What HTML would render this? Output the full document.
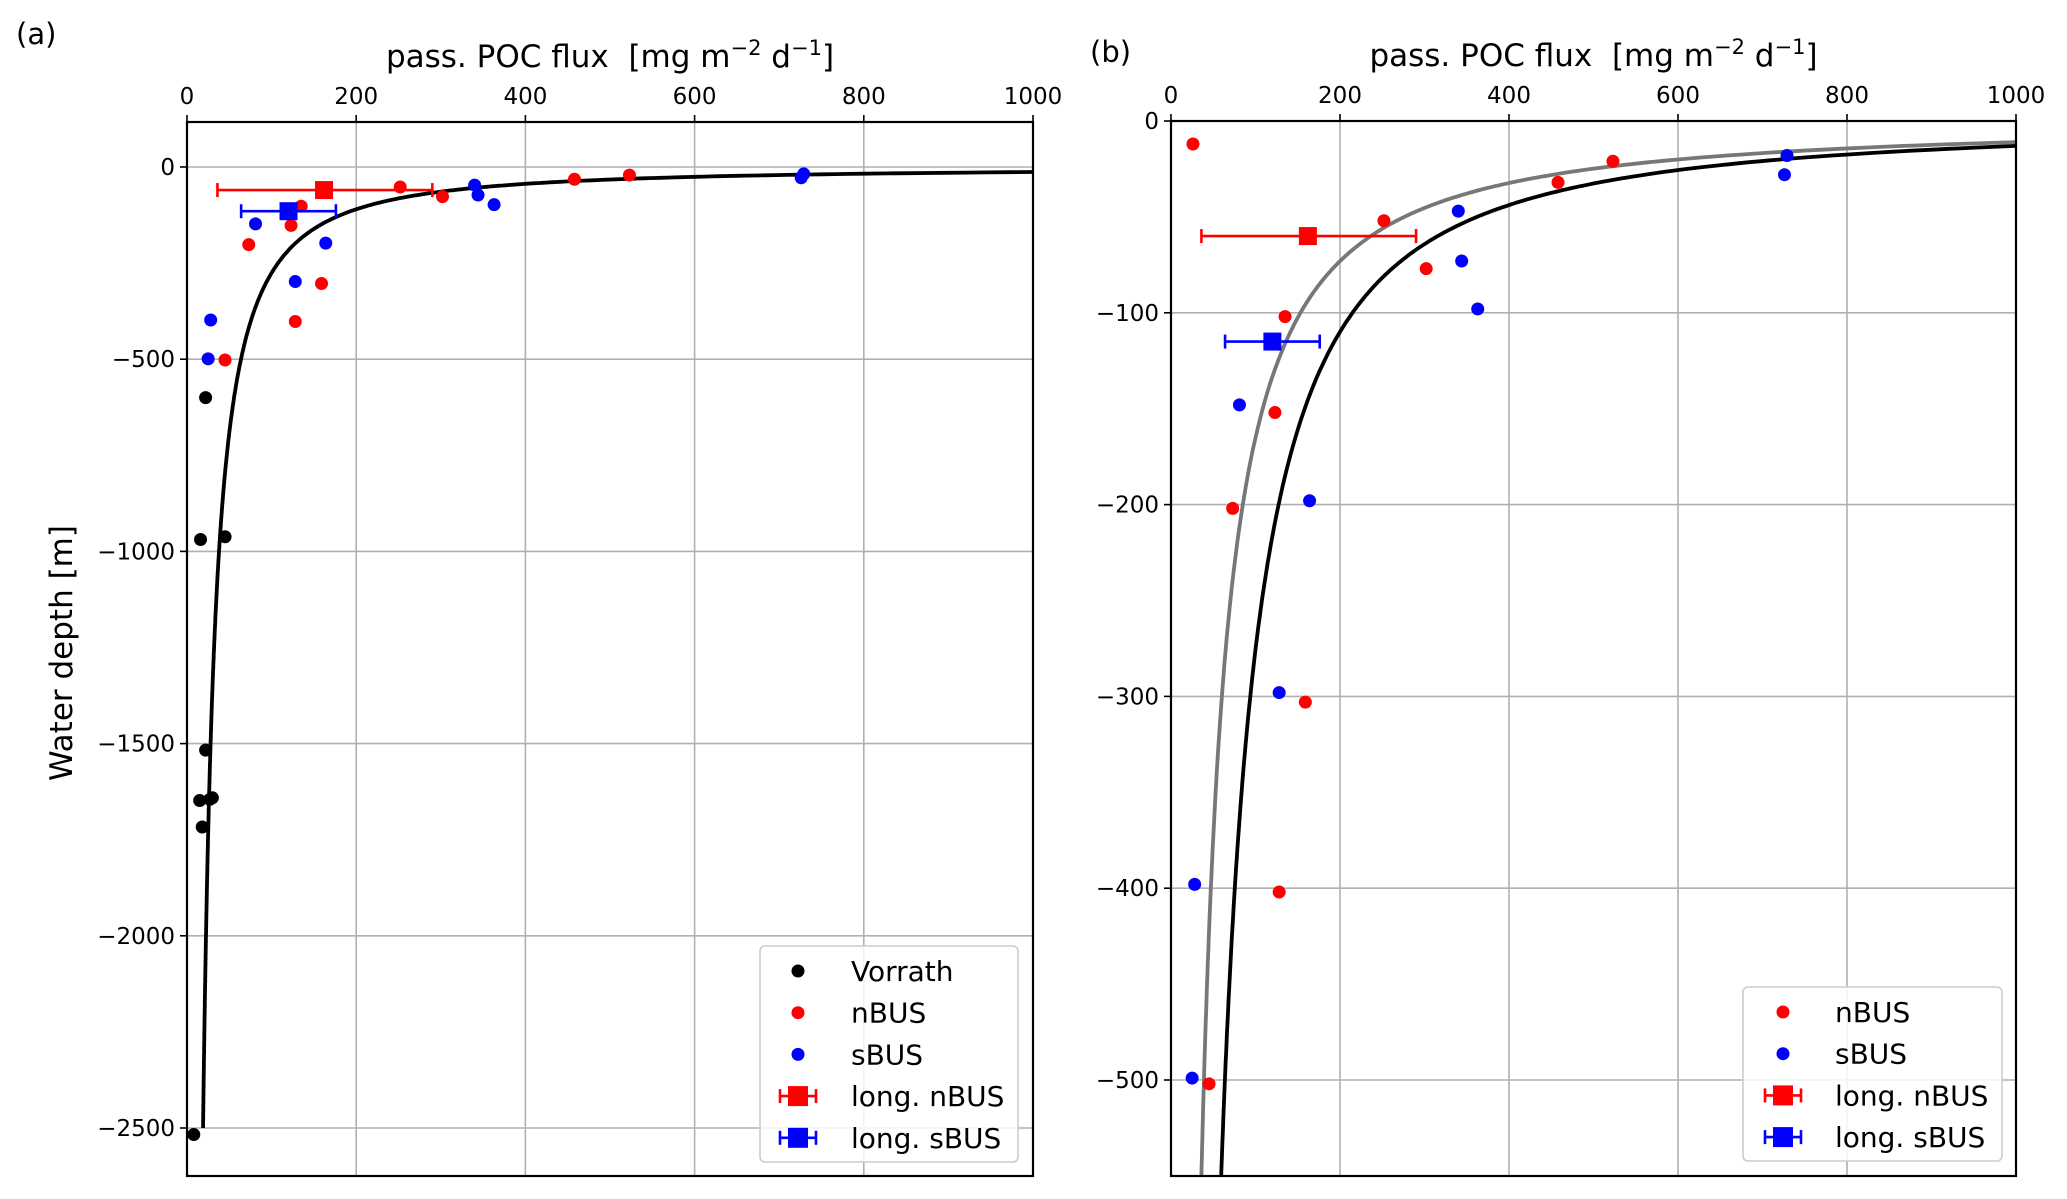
<!DOCTYPE html>
<html><head><meta charset="utf-8"><style>
html,body{margin:0;padding:0;background:#fff;width:2067px;height:1199px;overflow:hidden}
svg{display:block;font-family:"DejaVu Sans","Liberation Sans",sans-serif}
</style></head><body>
<svg id="fig" width="2067" height="1199" xmlns="http://www.w3.org/2000/svg"></svg>
<script>
const xTicks=[0,200,400,600,800,1000];
const yTicksA=[0,-500,-1000,-1500,-2000,-2500];
const yTicksB=[0,-100,-200,-300,-400,-500];
const vorrathX=[22,16,45,22,15,27,30,18,8];
const vorrathY=[-600,-969,-962,-1517,-1648,-1645,-1641,-1717,-2517];
const nbusX=[26,252,302,135,458,523,123,73,159,128,45];
const nbusY=[-12,-52,-77,-102,-32,-21,-152,-202,-303,-402,-502];
const nbusAX=[252,302,135,458,523,123,73,159,128,45];
const nbusAY=[-52,-77,-102,-32,-21,-152,-202,-303,-402,-502];
const sbusX=[340,344,363,729,726,81,164,128,28,25];
const sbusY=[-47,-73,-98,-18,-28,-148,-198,-298,-398,-499];
const longX=[162,120];
const longY=[-60,-115];
const longXmin=[36,64];
const longXmax=[290,176];
const curveA=[1000,13,0.754];
const curveGray=[1000,11,0.85];
const NS="http://www.w3.org/2000/svg";
const svg=document.getElementById('fig');
function mk(tag,attrs,parent){const e=document.createElementNS(NS,tag);for(const k in attrs)e.setAttribute(k,attrs[k]);(parent||svg).appendChild(e);return e;}
function txt(s,attrs,parent){const e=mk('text',attrs,parent);e.textContent=s;return e;}

function panel(P){
  const g=mk('g',{});
  
  
  const sx=v=>P.L+(v-0)/1000*(P.R-P.L);
  const sy=v=>P.y0+(-v)*P.k;
  const clip=mk('clipPath',{id:'clip'+P.id},g);
  mk('rect',{x:P.L,y:P.T,width:P.R-P.L,height:P.B-P.T},clip);
  xTicks.forEach(t=>{const l=mk('line',{x1:sx(t),x2:sx(t),y1:P.T,y2:P.B,stroke:'#b0b0b0','stroke-width':1.6},g);
    });
  P.yt.forEach(t=>{const l=mk('line',{x1:P.L,x2:P.R,y1:sy(t),y2:sy(t),stroke:'#b0b0b0','stroke-width':1.6},g);
    });
  xTicks.forEach(t=>{mk('line',{x1:sx(t),x2:sx(t),y1:P.T,y2:P.T-7,stroke:'#000','stroke-width':1.6},g);
    const e=txt(String(t),{x:sx(t),y:P.T-18,'font-size':23,'text-anchor':'middle'},g);
    });
  P.yt.forEach(t=>{mk('line',{x1:P.L,x2:P.L-7,y1:sy(t),y2:sy(t),stroke:'#000','stroke-width':1.6},g);
    const e=txt(t<0?'\u2212'+(-t):String(t),{x:P.L-12,y:sy(t)+8,'font-size':23,'text-anchor':'end'},g);
    });
  const cg=mk('g',{'clip-path':'url(#clip'+P.id+')'},g);
  function curve(c,color,zmax,name){let d='';
    for(let z=1;z<=zmax;z+=(z<100?0.5:5)){const f=c[0]*Math.pow(z/c[1],-c[2]);d+=(d?'L':'M')+sx(f).toFixed(1)+','+sy(-z).toFixed(1);}
    const p=mk('path',{d:d,fill:'none',stroke:color,'stroke-width':3.8},cg);
    }
  if(P.gray) curve(curveGray,'#777',2600,'gray-fit-curve');
  curve(curveA,'#000',P.id==='a'?2500:2600,'black-fit-curve');
  function dots(X,Y,col,name){X.forEach((x,i)=>{if(-Y[i]>P.maxd)return;const c=mk('circle',{cx:sx(x),cy:sy(Y[i]),r:6.5,fill:col},cg);
    });}
  if(P.id==='a'){dots(vorrathX,vorrathY,'#000','vorrath-point');dots(nbusAX,nbusAY,'#f00','nbus-point');}
  else dots(nbusX,nbusY,'#f00','nbus-point');
  dots(sbusX,sbusY,'#00f','sbus-point');
  const cols=['#f00','#00f'];const nm=['long-nbus','long-sbus'];
  longX.forEach((x,i)=>{const y=sy(longY[i]);const gg=mk('g',{},cg);
    
    mk('line',{x1:sx(longXmin[i]),x2:sx(longXmax[i]),y1:y,y2:y,stroke:cols[i],'stroke-width':2.6},gg);
    mk('line',{x1:sx(longXmin[i]),x2:sx(longXmin[i]),y1:y-7,y2:y+7,stroke:cols[i],'stroke-width':2.6},gg);
    mk('line',{x1:sx(longXmax[i]),x2:sx(longXmax[i]),y1:y-7,y2:y+7,stroke:cols[i],'stroke-width':2.6},gg);
    mk('rect',{x:sx(x)-9,y:y-9,width:18,height:18,fill:cols[i]},gg);});
  const f=mk('rect',{x:P.L,y:P.T,width:P.R-P.L,height:P.B-P.T,fill:'none',stroke:'#000','stroke-width':2.2},g);
  
  const t=mk('text',{x:(P.L+P.R)/2,y:P.T-55,'font-size':31,'text-anchor':'middle',style:'white-space:pre'},g);
  
  t.innerHTML='pass. POC flux \u00a0[mg m<tspan dy="-12" font-size="21">\u22122</tspan><tspan dy="12"> d</tspan><tspan dy="-12" font-size="21">\u22121</tspan><tspan dy="12">]</tspan>';
  const pl=txt(P.lab,{x:P.labX,y:P.labY,'font-size':29},g);
  
  const lg=mk('g',{},g);
  mk('rect',{x:P.lg[0],y:P.lg[1],width:P.lg[2],height:P.lg[3],rx:5,fill:'#fff','fill-opacity':0.85,stroke:'#ccc','stroke-width':1.6},lg);
  P.items.forEach((it,i)=>{const y=P.lgRow0+i*41.7;const mx=P.lgMx;
    const e=mk('g',{},lg);
    if(it[2]==='dot')mk('circle',{cx:mx,cy:y,r:6.5,fill:it[1]},e);
    else{mk('line',{x1:mx-18,x2:mx+18,y1:y,y2:y,stroke:it[1],'stroke-width':2.6},e);
      mk('line',{x1:mx-18,x2:mx-18,y1:y-7,y2:y+7,stroke:it[1],'stroke-width':2.6},e);
      mk('line',{x1:mx+18,x2:mx+18,y1:y-7,y2:y+7,stroke:it[1],'stroke-width':2.6},e);
      mk('rect',{x:mx-10,y:y-10,width:20,height:20,fill:it[1]},e);}
    txt(it[0],{x:P.lgTx,y:y+10,'font-size':28},e);});
}
panel({id:'a',name:'panel-a',L:187,R:1033,T:122,B:1176,y0:167,k:0.3844,yt:yTicksA,maxd:99999,gray:false,lab:'(a)',labX:16,labY:44,
  lg:[760,946,258,216],lgRow0:971,lgMx:798,lgTx:851,
  items:[['Vorrath','#000','dot'],['nBUS','#f00','dot'],['sBUS','#00f','dot'],['long. nBUS','#f00','sq'],['long. sBUS','#00f','sq']]});
panel({id:'b',name:'panel-b',L:1171,R:2016,T:121,B:1176,y0:121,k:1.918,yt:yTicksB,maxd:560,gray:true,lab:'(b)',labX:1090,labY:62,
  lg:[1743,987,259,174],lgRow0:1012,lgMx:1783,lgTx:1835,
  items:[['nBUS','#f00','dot'],['sBUS','#00f','dot'],['long. nBUS','#f00','sq'],['long. sBUS','#00f','sq']]});
const yl=txt('Water depth [m]',{x:0,y:0,'font-size':31,'text-anchor':'middle',transform:'translate(72,653) rotate(-90)'});


</script>
</body></html>
